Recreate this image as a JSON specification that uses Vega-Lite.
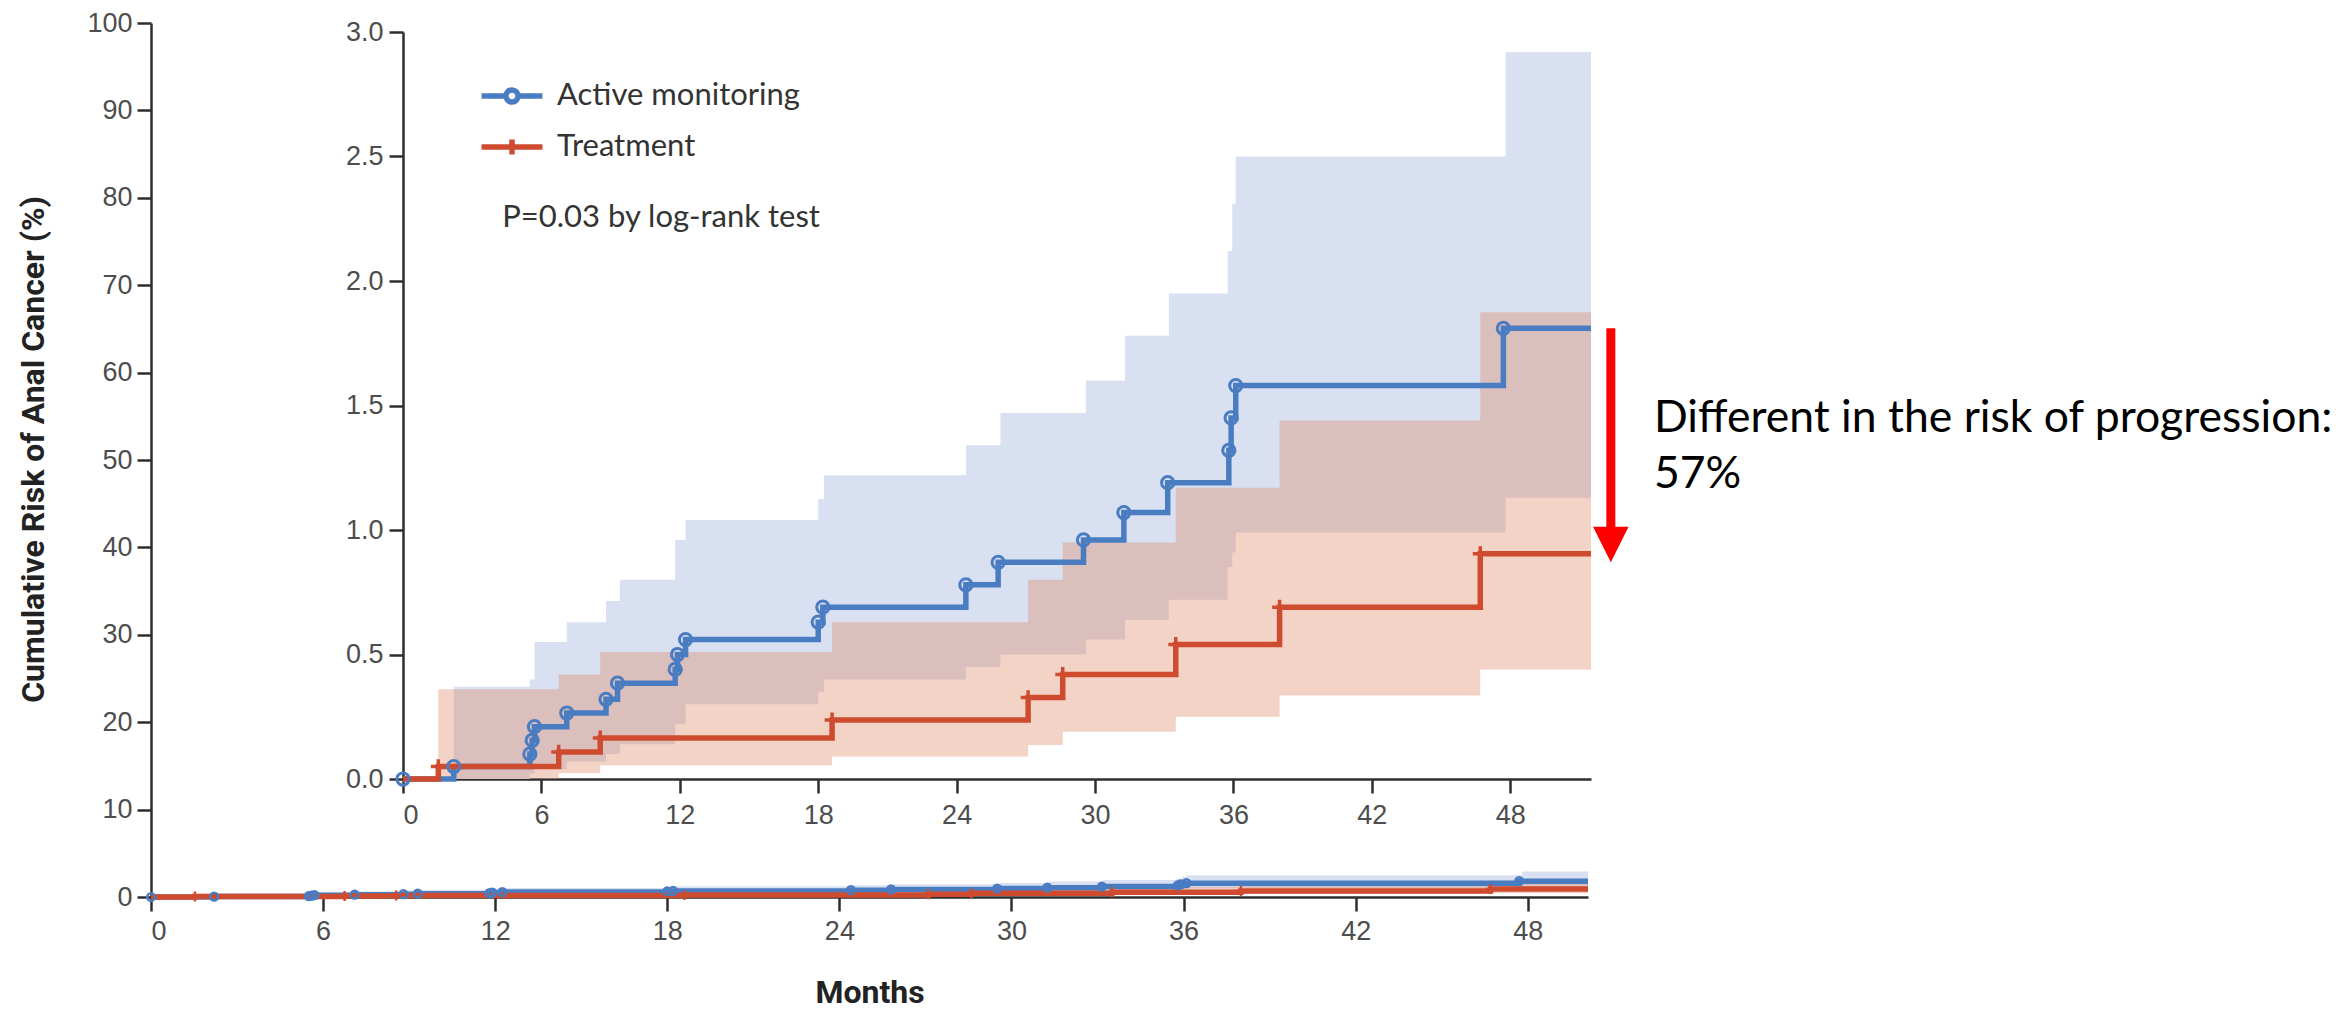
{
  "$schema": "https://vega.github.io/schema/vega-lite/v6.json",
  "width": 2346,
  "height": 1010,
  "autosize": {"type": "none"},
  "padding": 0,
  "background": "white",
  "config": {
    "view": {"stroke": null},
    "font": "Lato",
    "axis": {
      "grid": false,
      "domainColor": "#2e2e2e",
      "domainWidth": 2.5,
      "tickColor": "#2e2e2e",
      "tickWidth": 2.5,
      "tickSize": 14,
      "labelFont": "Liberation Sans",
      "labelFontSize": 27,
      "labelColor": "#4d4d4d"
    }
  },
  "datasets": {
    "curve": [
      {"group": "Active monitoring", "month": 0, "risk": 0, "event": 1},
      {"group": "Active monitoring", "month": 2.2, "risk": 0.05, "event": 1},
      {"group": "Active monitoring", "month": 5.5, "risk": 0.10, "event": 1},
      {"group": "Active monitoring", "month": 5.6, "risk": 0.155, "event": 1},
      {"group": "Active monitoring", "month": 5.7, "risk": 0.21, "event": 1},
      {"group": "Active monitoring", "month": 7.1, "risk": 0.265, "event": 1},
      {"group": "Active monitoring", "month": 8.8, "risk": 0.32, "event": 1},
      {"group": "Active monitoring", "month": 9.3, "risk": 0.385, "event": 1},
      {"group": "Active monitoring", "month": 11.8, "risk": 0.44, "event": 1},
      {"group": "Active monitoring", "month": 11.9, "risk": 0.50, "event": 1},
      {"group": "Active monitoring", "month": 12.25, "risk": 0.56, "event": 1},
      {"group": "Active monitoring", "month": 18.0, "risk": 0.63, "event": 1},
      {"group": "Active monitoring", "month": 18.2, "risk": 0.69, "event": 1},
      {"group": "Active monitoring", "month": 24.4, "risk": 0.78, "event": 1},
      {"group": "Active monitoring", "month": 25.8, "risk": 0.87, "event": 1},
      {"group": "Active monitoring", "month": 29.5, "risk": 0.96, "event": 1},
      {"group": "Active monitoring", "month": 31.25, "risk": 1.07, "event": 1},
      {"group": "Active monitoring", "month": 33.15, "risk": 1.19, "event": 1},
      {"group": "Active monitoring", "month": 35.8, "risk": 1.32, "event": 1},
      {"group": "Active monitoring", "month": 35.9, "risk": 1.45, "event": 1},
      {"group": "Active monitoring", "month": 36.1, "risk": 1.58, "event": 1},
      {"group": "Active monitoring", "month": 47.7, "risk": 1.81, "event": 1},
      {"group": "Active monitoring", "month": 51.5, "risk": 1.81, "event": 0},
      {"group": "Treatment", "month": 0, "risk": 0, "event": 0},
      {"group": "Treatment", "month": 1.53, "risk": 0.05, "event": 1},
      {"group": "Treatment", "month": 6.75, "risk": 0.108, "event": 1},
      {"group": "Treatment", "month": 8.55, "risk": 0.165, "event": 1},
      {"group": "Treatment", "month": 18.6, "risk": 0.237, "event": 1},
      {"group": "Treatment", "month": 27.1, "risk": 0.327, "event": 1},
      {"group": "Treatment", "month": 28.6, "risk": 0.42, "event": 1},
      {"group": "Treatment", "month": 33.5, "risk": 0.54, "event": 1},
      {"group": "Treatment", "month": 38.0, "risk": 0.69, "event": 1},
      {"group": "Treatment", "month": 46.7, "risk": 0.905, "event": 1},
      {"group": "Treatment", "month": 51.5, "risk": 0.905, "event": 0}
    ],
    "band": [
      {"group": "Active monitoring", "month": 2.2, "lower": 0.0, "risk": 0.37},
      {"group": "Active monitoring", "month": 5.5, "lower": 0.02, "risk": 0.40},
      {"group": "Active monitoring", "month": 5.7, "lower": 0.04, "risk": 0.55},
      {"group": "Active monitoring", "month": 7.1, "lower": 0.07, "risk": 0.63},
      {"group": "Active monitoring", "month": 8.8, "lower": 0.10, "risk": 0.715},
      {"group": "Active monitoring", "month": 9.4, "lower": 0.14, "risk": 0.80},
      {"group": "Active monitoring", "month": 11.8, "lower": 0.22, "risk": 0.96},
      {"group": "Active monitoring", "month": 12.25, "lower": 0.30, "risk": 1.04},
      {"group": "Active monitoring", "month": 18.0, "lower": 0.35, "risk": 1.125},
      {"group": "Active monitoring", "month": 18.25, "lower": 0.40, "risk": 1.22},
      {"group": "Active monitoring", "month": 24.4, "lower": 0.45, "risk": 1.34},
      {"group": "Active monitoring", "month": 25.9, "lower": 0.50, "risk": 1.47},
      {"group": "Active monitoring", "month": 29.6, "lower": 0.56, "risk": 1.60},
      {"group": "Active monitoring", "month": 31.3, "lower": 0.64, "risk": 1.78},
      {"group": "Active monitoring", "month": 33.2, "lower": 0.72, "risk": 1.95},
      {"group": "Active monitoring", "month": 35.75, "lower": 0.85, "risk": 2.12},
      {"group": "Active monitoring", "month": 35.95, "lower": 0.91, "risk": 2.31},
      {"group": "Active monitoring", "month": 36.1, "lower": 0.99, "risk": 2.50},
      {"group": "Active monitoring", "month": 47.8, "lower": 1.13, "risk": 2.92},
      {"group": "Active monitoring", "month": 51.5, "lower": 1.13, "risk": 2.92},
      {"group": "Treatment", "month": 1.53, "lower": 0.0, "risk": 0.36},
      {"group": "Treatment", "month": 6.75, "lower": 0.024, "risk": 0.42},
      {"group": "Treatment", "month": 8.55, "lower": 0.055, "risk": 0.51},
      {"group": "Treatment", "month": 18.6, "lower": 0.09, "risk": 0.63},
      {"group": "Treatment", "month": 27.1, "lower": 0.137, "risk": 0.80},
      {"group": "Treatment", "month": 28.6, "lower": 0.19, "risk": 0.95},
      {"group": "Treatment", "month": 33.5, "lower": 0.25, "risk": 1.17},
      {"group": "Treatment", "month": 38.0, "lower": 0.335, "risk": 1.44},
      {"group": "Treatment", "month": 46.7, "lower": 0.44, "risk": 1.875},
      {"group": "Treatment", "month": 51.5, "lower": 0.44, "risk": 1.875}
    ],
    "notes": [
      {"kind": "pvalue", "month": 4.3, "risk": 2.253, "label": "P=0.03 by log-rank test"},
      {"kind": "callout", "month": 54.23, "risk": 1.394, "label": "Different in the risk of progression:\n57%"}
    ],
    "arrow": [
      {"part": "shaft", "month": 52.36, "risk": 1.81, "lower": 0.871},
      {"part": "head", "month": 52.36, "risk": 0.871}
    ]
  },
  "layer": [
    {
      "encoding": {
        "x": {
          "field": "month", "type": "quantitative",
          "scale": {"domain": [0, 50.1], "range": [151, 1588], "nice": false, "zero": false, "clamp": true},
          "axis": {
            "orient": "bottom", "offset": -113, "values": [0, 6, 12, 18, 24, 30, 36, 42, 48],
            "labelPadding": 7,
            "title": "Months", "titleFont": "Roboto", "titleFontWeight": "bold", "titleFontSize": 32,
            "titleColor": "#222222", "titleY": 95, "titleBaseline": "middle"
          }
        },
        "y": {
          "field": "risk", "type": "quantitative",
          "scale": {"domain": [0, 100], "range": [897, 23], "nice": false, "zero": false},
          "axis": {
            "orient": "left", "offset": -151, "values": [0, 10, 20, 30, 40, 50, 60, 70, 80, 90, 100],
            "labelPadding": 5,
            "title": "Cumulative Risk of Anal Cancer (%)", "titleFont": "Roboto", "titleFontWeight": "bold",
            "titleFontSize": 32, "titleColor": "#222222", "titleX": -118, "titleY": 449, "titleBaseline": "middle"
          }
        }
      },
      "layer": [
        {
          "data": {"name": "band"},
          "transform": [{"filter": "datum.group === 'Active monitoring'"}],
          "mark": {"type": "area", "interpolate": "step-after", "color": "#d8e0f1", "opacity": 1},
          "encoding": {"y2": {"field": "lower"}}
        },
        {
          "data": {"name": "band"},
          "transform": [{"filter": "datum.group === 'Treatment'"}],
          "mark": {"type": "area", "interpolate": "step-after", "color": "#de855e", "opacity": 0.36},
          "encoding": {"y2": {"field": "lower"}}
        },
        {
          "data": {"name": "curve"},
          "mark": {"type": "line", "interpolate": "step-after", "strokeWidth": 5.5},
          "encoding": {
            "color": {
              "field": "group", "type": "nominal",
              "scale": {"domain": ["Active monitoring", "Treatment"], "range": ["#4a7cc2", "#cf4b2f"]},
              "legend": null
            }
          }
        },
        {
          "data": {"name": "curve"},
          "transform": [{"filter": "datum.event === 1 && datum.group === 'Active monitoring'"}],
          "mark": {"type": "point", "shape": "circle", "size": 60, "filled": false, "color": "#4a7cc2", "strokeWidth": 2.5, "opacity": 1},
          "encoding": {}
        },
        {
          "data": {"name": "curve"},
          "transform": [{"filter": "datum.event === 1 && datum.group === 'Treatment'"}],
          "mark": {"type": "point", "shape": "M-1,0H1M0,-1V1", "size": 100, "filled": false, "color": "#cf4b2f", "strokeWidth": 2.5, "opacity": 1},
          "encoding": {}
        }
      ]
    },
    {
      "encoding": {
        "x": {
          "field": "month", "type": "quantitative",
          "scale": {"domain": [0, 51.5], "range": [403, 1591], "nice": false, "zero": false},
          "axis": {
            "orient": "bottom", "offset": -231, "values": [0, 6, 12, 18, 24, 30, 36, 42, 48],
            "labelPadding": 9, "title": null
          }
        },
        "y": {
          "field": "risk", "type": "quantitative",
          "scale": {"domain": [0, 3], "range": [779, 32], "nice": false, "zero": false},
          "axis": {
            "orient": "left", "offset": -403, "values": [0, 0.5, 1, 1.5, 2, 2.5, 3], "format": ".1f",
            "labelPadding": 6, "title": null
          }
        }
      },
      "layer": [
        {
          "data": {"name": "band"},
          "transform": [{"filter": "datum.group === 'Active monitoring'"}],
          "mark": {"type": "area", "interpolate": "step-after", "color": "#d8e0f1", "opacity": 1},
          "encoding": {"y2": {"field": "lower"}}
        },
        {
          "data": {"name": "band"},
          "transform": [{"filter": "datum.group === 'Treatment'"}],
          "mark": {"type": "area", "interpolate": "step-after", "color": "#de855e", "opacity": 0.36},
          "encoding": {"y2": {"field": "lower"}}
        },
        {
          "data": {"name": "curve"},
          "mark": {"type": "line", "interpolate": "step-after", "strokeWidth": 5.5},
          "encoding": {
            "color": {
              "field": "group", "type": "nominal",
              "scale": {"domain": ["Active monitoring", "Treatment"], "range": ["#4a7cc2", "#cf4b2f"]},
              "legend": {
                "title": null, "orient": "none", "legendX": 494, "legendY": 78, "padding": 0,
                "labelFont": "Lato", "labelFontSize": 31, "labelColor": "#333333", "labelOffset": 27,
                "labelLimit": 0,
                "symbolSize": 930, "symbolStrokeWidth": 5.5, "rowPadding": 14,
                "encode": {
                  "symbols": {
                    "update": {
                      "shape": {"signal": "datum.value === 'Active monitoring' ? 'M-2,0H-0.4M0.4,0H2M-0.4,0A0.4,0.4,0,1,1,0.4,0A0.4,0.4,0,1,1,-0.4,0' : 'M-2,0H2M0,-0.5V0.5'"},
                      "fill": {"value": "transparent"}
                    }
                  }
                }
              }
            }
          }
        },
        {
          "data": {"name": "curve"},
          "transform": [{"filter": "datum.event === 1 && datum.group === 'Active monitoring'"}],
          "mark": {"type": "point", "shape": "circle", "size": 150, "filled": false, "color": "#4a7cc2", "strokeWidth": 3, "opacity": 1},
          "encoding": {}
        },
        {
          "data": {"name": "curve"},
          "transform": [{"filter": "datum.event === 1 && datum.group === 'Treatment'"}],
          "mark": {"type": "point", "shape": "M-1,0H1M0,-1V1", "size": 220, "filled": false, "color": "#cf4b2f", "strokeWidth": 3.5, "opacity": 1},
          "encoding": {}
        },
        {
          "data": {"name": "notes"},
          "transform": [{"filter": "datum.kind === 'pvalue'"}],
          "mark": {"type": "text", "align": "left", "baseline": "middle", "font": "Lato", "fontSize": 31, "color": "#333333"},
          "encoding": {"text": {"field": "label"}}
        },
        {
          "data": {"name": "notes"},
          "transform": [{"filter": "datum.kind === 'callout'"}],
          "mark": {"type": "text", "align": "left", "baseline": "alphabetic", "font": "Lato", "fontSize": 44.5, "color": "#000000", "lineBreak": "\n", "lineHeight": 56},
          "encoding": {"text": {"field": "label"}}
        },
        {
          "data": {"name": "arrow"},
          "transform": [{"filter": "datum.part === 'shaft'"}],
          "mark": {"type": "rule", "color": "#ff0000", "strokeWidth": 9, "y2Offset": -22},
          "encoding": {"y2": {"field": "lower"}}
        },
        {
          "data": {"name": "arrow"},
          "transform": [{"filter": "datum.part === 'head'"}],
          "mark": {"type": "point", "shape": "M-1,-1L1,-1L0,1Z", "size": 1260, "filled": true, "color": "#ff0000", "opacity": 1, "yOffset": -17.5},
          "encoding": {}
        }
      ]
    }
  ],
  "resolve": {
    "scale": {"x": "independent", "y": "independent", "color": "independent"},
    "axis": {"x": "independent", "y": "independent"},
    "legend": {"color": "independent"}
  }
}
